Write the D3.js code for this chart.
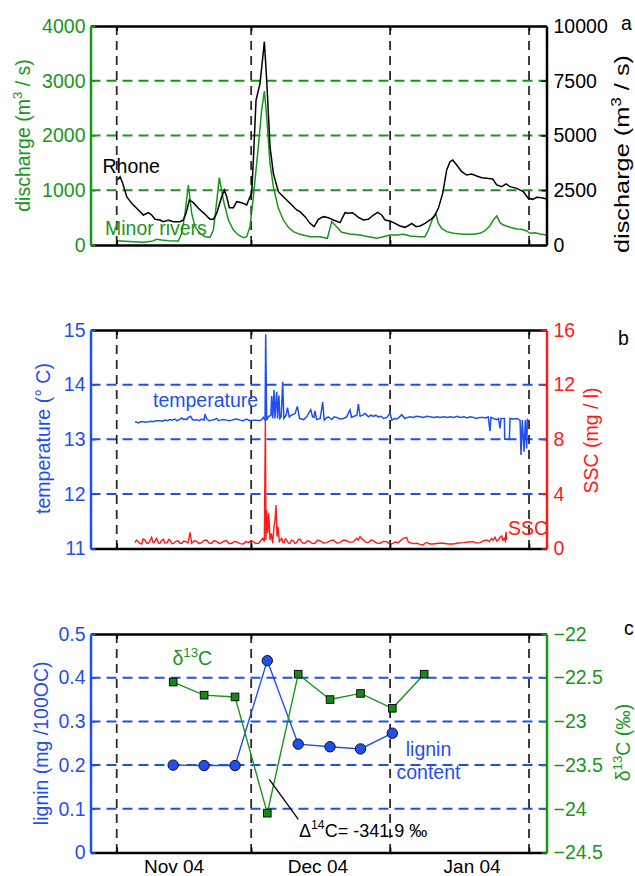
<!DOCTYPE html>
<html><head><meta charset="utf-8">
<script src="https://cdn.jsdelivr.net/npm/d3@7"></script>
<style>body{margin:0;background:#fff} svg{display:block} text{font-family:"Liberation Sans",Arial,Helvetica,sans-serif}</style>
</head><body><svg id="c" width="635" height="876"></svg>
<script>
// ---------- DATA (x = days since 1 Nov 2004) ----------
const xDomain = [-5.85, 95.9];
const monthLines = [0, 30, 61, 92];
const monthLabels = ["Nov 04", "Dec 04", "Jan 04"];
const monthLabelDays = [12.8, 44.9, 79.3];

// panel a
const dischargeLeftTicks = [0, 1000, 2000, 3000, 4000];
const dischargeRightTicks = [0, 2500, 5000, 7500, 10000];
const dischargeGrid = [1000, 2000, 3000];
const rhone = [[0.14,2968],[0.74,3120],[1.33,2816],[2.23,2207],[3.34,1903],[4.83,1598],[5.94,1370],[7.06,1476],[7.80,1370],[8.55,1172],[9.66,1142],[10.41,1065],[11.52,1142],[12.64,1065],[14.13,1065],[14.87,1142],[15.47,1446],[16.21,2055],[17.10,1933],[18.22,1674],[19.48,1446],[20.82,1172],[21.57,1172],[22.31,1446],[23.42,2207],[24.02,2511],[24.54,2207],[25.13,1705],[26.03,1705],[26.77,1979],[27.89,1933],[29.00,1826],[29.60,2131],[30.12,2359],[30.49,3881],[31.09,6621],[31.98,7382],[32.95,9284],[33.46,7534],[34.21,4490],[34.95,3272],[36.07,2435],[37.18,2207],[38.67,1903],[40.16,1598],[40.90,1522],[42.02,1294],[43.13,989],[44.03,837],[45.00,1172],[46.11,1294],[47.23,1248],[48.34,1142],[49.83,1020],[50.94,1476],[51.69,1446],[52.66,1476],[53.92,1263],[55.04,1142],[56.15,1172],[57.27,1370],[58.23,1492],[59.13,1370],[59.87,1142],[60.98,1096],[62.10,989],[63.21,868],[64.33,807],[65.30,913],[65.82,989],[66.79,837],[67.68,868],[68.80,989],[69.91,1142],[70.81,1294],[71.77,1674],[72.74,2359],[73.63,3425],[74.37,3805],[74.97,3881],[75.86,3653],[76.98,3348],[78.10,3196],[79.21,3242],[80.33,3151],[81.44,3074],[82.56,3044],[83.90,3014],[84.79,2740],[85.90,2664],[86.87,2788],[87.76,2664],[89.25,2587],[90.73,2435],[91.85,2131],[92.82,2085],[93.71,2177],[94.83,2161],[95.9,2100]];
const minorRivers = [[0.0,79],[3.72,61],[5.94,49],[7.80,67],[8.92,104],[10.04,91],[11.52,79],[13.75,73],[14.50,213],[15.24,578],[15.98,1096],[16.73,578],[17.47,335],[18.59,213],[19.70,152],[20.82,140],[21.57,274],[22.31,791],[22.90,1230],[23.79,822],[24.91,457],[26.03,274],[27.14,183],[28.26,134],[29.00,152],[29.74,335],[30.49,883],[31.60,1796],[32.35,2466],[32.95,2813],[33.46,2344],[34.21,1492],[34.95,1065],[36.07,670],[37.18,457],[38.30,323],[39.41,244],[40.90,195],[42.02,175],[43.13,152],[45.36,152],[47.00,122],[47.97,426],[49.08,335],[50.20,231],[52.06,201],[54.29,183],[56.15,152],[58.01,122],[59.50,152],[60.98,183],[62.47,183],[63.96,195],[65.45,164],[67.68,152],[68.80,152],[69.54,274],[70.66,517],[71.25,560],[71.77,396],[72.52,304],[73.63,244],[75.12,213],[77.35,195],[79.58,195],[81.07,213],[82.19,262],[83.30,353],[84.05,457],[84.79,530],[85.53,408],[86.28,365],[87.76,323],[89.25,292],[90.36,286],[91.48,256],[92.22,213],[93.34,225],[94.45,201],[95.9,183]];

// panel b
const tempTicks = [11, 12, 13, 14, 15];
const sscTicks = [0, 4, 8, 12, 16];
const tempGrid = [12, 13, 14];
const temperature = [[4.1,13.32],[4.5,13.31],[4.8,13.30],[5.3,13.32],[5.9,13.32],[6.4,13.31],[7.1,13.32],[7.6,13.33],[8.2,13.32],[8.8,13.34],[9.7,13.34],[10.2,13.33],[10.8,13.35],[11.3,13.34],[11.9,13.36],[12.4,13.35],[13.0,13.37],[13.4,13.34],[13.8,13.35],[14.5,13.39],[14.9,13.36],[15.2,13.37],[15.6,13.36],[16.0,13.40],[16.5,13.42],[16.9,13.36],[17.4,13.35],[17.8,13.36],[18.4,13.34],[19.0,13.37],[19.5,13.35],[19.7,13.46],[20.1,13.37],[20.6,13.34],[21.2,13.35],[21.8,13.36],[22.3,13.38],[22.7,13.34],[23.1,13.35],[23.8,13.36],[24.5,13.35],[25.1,13.34],[25.7,13.35],[26.2,13.36],[26.8,13.37],[27.5,13.35],[28.2,13.34],[29.0,13.37],[29.7,13.34],[30.4,13.35],[31.2,13.35],[31.8,13.34],[32.4,13.36],[32.7,13.40],[33.1,13.35],[33.24,14.92],[33.46,13.35],[33.8,13.41],[34.4,13.44],[34.58,13.79],[34.8,13.38],[35.1,13.90],[35.3,13.38],[35.7,13.87],[35.9,13.38],[36.2,13.80],[36.4,13.38],[36.7,13.41],[37.03,14.05],[37.3,13.38],[37.8,13.44],[38.1,13.58],[38.5,13.41],[39.0,13.44],[39.8,13.47],[40.3,13.60],[40.8,13.38],[41.2,13.37],[41.7,13.36],[42.4,13.41],[43.0,13.50],[43.3,13.54],[43.7,13.41],[44.0,13.40],[44.25,13.52],[44.6,13.36],[45.4,13.38],[45.96,13.68],[46.3,13.35],[46.8,13.39],[47.2,13.41],[48.0,13.36],[48.5,13.41],[49.1,13.40],[49.8,13.37],[50.6,13.38],[51.3,13.41],[52.06,13.54],[52.4,13.40],[53.0,13.42],[53.6,13.44],[53.92,13.65],[54.3,13.42],[54.9,13.44],[55.4,13.47],[56.2,13.41],[56.7,13.44],[57.3,13.42],[57.8,13.44],[58.4,13.41],[59.0,13.42],[59.5,13.38],[60.3,13.40],[60.98,13.48],[61.4,13.35],[62.0,13.38],[62.5,13.37],[63.0,13.40],[63.6,13.45],[64.3,13.38],[64.9,13.40],[65.5,13.41],[66.2,13.40],[66.8,13.42],[67.7,13.41],[68.4,13.40],[69.2,13.42],[69.9,13.41],[70.8,13.40],[71.5,13.41],[72.1,13.40],[73.0,13.41],[73.8,13.40],[74.4,13.41],[75.2,13.40],[76.0,13.42],[76.6,13.40],[77.5,13.41],[78.2,13.39],[78.8,13.41],[79.6,13.40],[80.3,13.38],[81.0,13.40],[81.8,13.40],[82.4,13.39],[82.9,13.41],[83.3,13.15],[83.5,13.40],[84.1,13.38],[84.8,13.36],[85.2,13.38],[85.53,13.20],[85.76,13.38],[86.5,13.38],[86.58,13.00],[87.62,13.00],[87.76,13.38],[88.5,13.37],[89.25,13.38],[90.0,13.35],[90.21,12.71],[90.5,13.35],[90.89,12.77],[91.18,13.35],[91.48,12.83],[91.63,13.36],[91.86,13.36]];
const ssc = [[4.08,0.43],[4.4,0.62],[4.83,0.50],[5.2,0.38],[5.57,0.33],[5.9,0.70],[6.31,0.62],[6.7,0.40],[7.06,0.38],[7.4,0.55],[7.80,0.82],[8.1,0.45],[8.32,0.43],[8.6,0.60],[8.92,0.74],[9.3,0.40],[9.66,0.38],[10.0,0.58],[10.41,0.67],[10.8,0.40],[11.30,0.43],[11.6,0.66],[11.89,0.62],[12.3,0.35],[12.64,0.38],[13.2,0.52],[13.75,0.57],[14.1,0.38],[14.50,0.38],[15.0,0.55],[15.46,0.50],[15.9,0.40],[16.36,1.18],[16.73,0.38],[17.3,0.56],[17.84,0.52],[18.4,0.36],[18.96,0.43],[19.5,0.60],[20.07,0.62],[20.6,0.40],[21.19,0.38],[21.7,0.58],[22.31,0.50],[22.9,0.36],[23.42,0.43],[24.0,0.55],[24.54,0.57],[25.1,0.35],[25.66,0.38],[26.2,0.52],[26.77,0.48],[27.5,0.36],[28.26,0.33],[28.8,0.50],[29.37,0.43],[29.9,0.56],[30.49,0.50],[31.0,0.36],[31.60,0.38],[32.1,0.55],[32.57,0.74],[32.94,0.50],[33.17,9.41],[33.31,0.62],[33.46,2.82],[33.69,1.11],[33.91,2.58],[34.21,0.62],[34.51,1.11],[34.80,0.38],[35.10,1.60],[35.32,2.09],[35.55,3.19],[35.77,0.87],[35.99,1.60],[36.29,0.50],[36.81,0.74],[37.1,0.45],[37.33,0.43],[37.6,0.70],[37.93,0.62],[38.3,0.40],[38.67,0.38],[39.0,0.60],[39.41,0.57],[39.8,0.36],[40.16,0.43],[40.5,0.66],[40.90,0.67],[41.5,0.40],[42.02,0.38],[42.6,0.58],[43.13,0.50],[43.7,0.36],[44.25,0.38],[44.8,0.60],[45.36,0.57],[46.1,0.40],[46.85,0.43],[47.6,0.56],[48.34,0.62],[49.1,0.40],[49.83,0.43],[50.6,0.62],[51.32,0.57],[52.0,0.45],[52.81,0.50],[53.55,0.74],[53.9,0.60],[54.29,0.87],[54.7,0.70],[55.04,0.62],[55.6,0.45],[56.15,0.43],[56.7,0.62],[57.27,0.57],[58.0,0.40],[58.76,0.38],[59.5,0.52],[60.24,0.50],[60.8,0.36],[61.36,0.33],[62.1,0.48],[62.85,0.43],[63.5,0.62],[63.96,0.74],[64.71,0.82],[65.1,0.45],[65.45,0.43],[66.2,0.36],[66.94,0.38],[67.7,0.30],[68.43,0.26],[68.8,0.40],[69.17,0.43],[69.9,0.33],[70.66,0.33],[71.8,0.38],[72.89,0.38],[74.0,0.33],[75.12,0.33],[76.2,0.40],[77.35,0.43],[78.5,0.48],[79.58,0.50],[80.3,0.40],[81.07,0.43],[81.8,0.55],[82.56,0.62],[83.1,0.50],[83.67,0.74],[84.0,0.60],[84.42,0.82],[84.8,0.55],[85.16,0.62],[85.5,0.80],[85.90,0.92],[86.2,0.60],[86.43,0.74],[86.7,0.55],[86.87,1.23],[87.02,0.62]];

// panel c
const ligninTicks = [0, 0.1, 0.2, 0.3, 0.4, 0.5];
const d13cTicks = [-24.5, -24, -23.5, -23, -22.5, -22];
const ligninGrid = [0.1, 0.2, 0.3, 0.4];
const ligninDays = [12.6, 19.5, 26.4, 33.6, 40.5, 47.6, 54.4, 61.5];
const ligninValues = [0.200, 0.199, 0.199, 0.439, 0.248, 0.242, 0.237, 0.273];
const d13cDays = [12.6, 19.5, 26.4, 33.6, 40.5, 47.6, 54.4, 61.5, 68.6];
const d13cValues = [-22.55, -22.70, -22.72, -24.05, -22.46, -22.75, -22.68, -22.85, -22.46];
const d14cNote = "-341.9 ‰";

// ---------- DRAW ----------
const GREEN = "#1b941b", BLUE = "#1f4ff0", RED = "#ff1a1a", BLACK = "#000", GRIDV = "#2a2a2a";
const X0 = 90.5, X1 = 546.5;
const svg = d3.select("#c");
const x = d3.scaleLinear().domain(xDomain).range([X0, X1]);
const TICKFS = 19.5, LABFS = 19.5;

function setupPanel(top, bottom, leftDom, rightDom, grid, gridColor) {
  const g = svg.append("g");
  const yL = d3.scaleLinear().domain(leftDom).range([bottom, top]);
  const yR = d3.scaleLinear().domain(rightDom).range([bottom, top]);
  g.selectAll(null).data(grid).join("line")
    .attr("x1", X0).attr("x2", X1).attr("y1", d => yL(d)).attr("y2", d => yL(d))
    .attr("stroke", gridColor).attr("stroke-width", 2).attr("stroke-dasharray", "10,6");
  g.selectAll(null).data(monthLines).join("line")
    .attr("x1", d => x(d)).attr("x2", d => x(d)).attr("y1", top).attr("y2", bottom)
    .attr("stroke", GRIDV).attr("stroke-width", 1.8).attr("stroke-dasharray", "9,6");
  return {g, yL, yR, top, bottom};
}

function frame(p, leftTicks, rightTicks, leftColor, rightColor, lfmt, rfmt) {
  const {g, yL, yR, top, bottom} = p;
  const style = (sel, color) => {
    sel.select(".domain").attr("stroke", color).attr("stroke-width", 2.5);
    sel.selectAll(".tick line").attr("stroke", color).attr("stroke-width", 1.5);
    sel.selectAll(".tick text").attr("fill", color).attr("font-size", TICKFS)
      .attr("font-family", '"Liberation Sans",Arial,sans-serif');
    sel.attr("font-size", null).attr("font-family", null);
  };
  const ax = d3.axisTop(x).tickValues(monthLines).tickSize(-5).tickSizeOuter(0).tickFormat("");
  g.append("g").attr("transform", `translate(0,${top})`).call(ax).call(s => style(s, BLACK));
  const bx = d3.axisBottom(x).tickValues(monthLines).tickSize(-5).tickSizeOuter(0).tickFormat("");
  g.append("g").attr("transform", `translate(0,${bottom})`).call(bx).call(s => style(s, BLACK));
  g.append("g").attr("transform", `translate(${X0},0)`)
    .call(d3.axisLeft(yL).tickValues(leftTicks).tickSize(-5).tickSizeOuter(0).tickPadding(5).tickFormat(lfmt))
    .call(s => style(s, leftColor));
  g.append("g").attr("transform", `translate(${X1},0)`)
    .call(d3.axisRight(yR).tickValues(rightTicks).tickSize(-5).tickSizeOuter(0).tickPadding(7).tickFormat(rfmt))
    .call(s => style(s, rightColor));
}

function vlabel(xb, yc, color, parts, fs) {
  const t = svg.append("text").attr("transform", `translate(${xb},${yc}) rotate(-90)`)
    .attr("text-anchor", "middle").attr("fill", color).attr("font-size", fs || LABFS);
  parts.forEach(p => {
    const ts = t.append("tspan").text(p.t);
    if (p.sup) ts.attr("font-size", (fs || LABFS) * 0.68).attr("dy", -8);
    if (p.after) ts.attr("dy", 8);
  });
  return t;
}
function hlabel(xp, yp, color, parts, fs, anchor) {
  const t = svg.append("text").attr("x", xp).attr("y", yp).attr("fill", color)
    .attr("font-size", fs || LABFS).attr("text-anchor", anchor || "start");
  parts.forEach(p => {
    const ts = t.append("tspan").text(p.t);
    if (p.sup) ts.attr("font-size", (fs || LABFS) * 0.68).attr("dy", -8);
    if (p.after) ts.attr("dy", 8);
  });
  return t;
}

// ----- Panel a -----
const pa = setupPanel(26, 245, [0, 4000], [0, 10000], dischargeGrid, GREEN);
pa.g.append("path").datum(minorRivers)
  .attr("d", d3.line().x(d => x(d[0])).y(d => pa.yL(d[1])))
  .attr("fill", "none").attr("stroke", GREEN).attr("stroke-width", 1.5);
pa.g.append("path").datum(rhone)
  .attr("d", d3.line().x(d => x(d[0])).y(d => pa.yR(d[1])))
  .attr("fill", "none").attr("stroke", BLACK).attr("stroke-width", 1.5);
frame(pa, dischargeLeftTicks, dischargeRightTicks, GREEN, BLACK, d3.format("d"), d3.format("d"));
hlabel(102.5, 173, BLACK, [{t: "Rhone"}]);
hlabel(105, 235, GREEN, [{t: "Minor rivers"}]);
vlabel(29.5, 135.5, GREEN, [{t: "discharge (m"}, {t: "3", sup: true}, {t: " / s)", after: true}]);
vlabel(629, 154, BLACK, [{t: "discharge (m"}, {t: "3", sup: true}, {t: " / s)", after: true}], 21)
  .attr("textLength", 198).attr("lengthAdjust", "spacingAndGlyphs");
hlabel(621, 30, BLACK, [{t: "a"}]);

// ----- Panel b -----
const pb = setupPanel(330, 548.5, [11, 15], [0, 16], tempGrid, BLUE);
pb.g.append("path").datum(ssc)
  .attr("d", d3.line().x(d => x(d[0])).y(d => pb.yR(d[1])))
  .attr("fill", "none").attr("stroke", RED).attr("stroke-width", 1.4);
pb.g.append("path").datum(temperature)
  .attr("d", d3.line().x(d => x(d[0])).y(d => pb.yL(d[1])))
  .attr("fill", "none").attr("stroke", BLUE).attr("stroke-width", 1.5);
frame(pb, tempTicks, sscTicks, BLUE, RED, d3.format("d"), d3.format("d"));
hlabel(153, 406.5, BLUE, [{t: "temperature"}]);
hlabel(508, 535, RED, [{t: "SSC"}]);
vlabel(50, 438.5, BLUE, [{t: "temperature (° C)"}]);
vlabel(598, 440.5, RED, [{t: "SSC (mg / l)"}]);
hlabel(618, 345, BLACK, [{t: "b"}]);

// ----- Panel c -----
const pc = setupPanel(634, 852.5, [0, 0.5], [-24.5, -22], ligninGrid, BLUE);
const ligninPts = ligninDays.map((d, i) => [d, ligninValues[i]]);
const d13cPts = d13cDays.map((d, i) => [d, d13cValues[i]]);
pc.g.append("path").datum(ligninPts)
  .attr("d", d3.line().x(d => x(d[0])).y(d => pc.yL(d[1])))
  .attr("fill", "none").attr("stroke", BLUE).attr("stroke-width", 1.4);
pc.g.append("path").datum(d13cPts)
  .attr("d", d3.line().x(d => x(d[0])).y(d => pc.yR(d[1])))
  .attr("fill", "none").attr("stroke", GREEN).attr("stroke-width", 1.4);
pc.g.selectAll(null).data(ligninPts).join("circle")
  .attr("cx", d => x(d[0])).attr("cy", d => pc.yL(d[1])).attr("r", 5.2)
  .attr("fill", BLUE).attr("stroke", "#111").attr("stroke-width", 1);
const SQ = 7.6;
pc.g.selectAll(null).data(d13cPts).join("rect")
  .attr("x", d => x(d[0]) - SQ / 2).attr("y", d => pc.yR(d[1]) - SQ / 2)
  .attr("width", SQ).attr("height", SQ)
  .attr("fill", "#168a16").attr("stroke", "#111").attr("stroke-width", 1);
// annotation leader (in lignin units)
pc.g.append("line")
  .attr("x1", x(34.05)).attr("y1", pc.yL(0.1675)).attr("x2", x(40.52)).attr("y2", pc.yL(0.076))
  .attr("stroke", BLACK).attr("stroke-width", 1.3);
frame(pc, ligninTicks, d13cTicks, BLUE, GREEN, d => d === 0 ? "0" : d3.format(".1f")(d), d => (d < 0 ? "\u2212" : "") + d3.format("")(Math.abs(d)));
hlabel(299, 836.5, BLACK, [{t: "Δ"}, {t: "14", sup: true}, {t: "C= " + d14cNote, after: true}], 18);
hlabel(172.5, 665, GREEN, [{t: "δ"}, {t: "13", sup: true}, {t: "C", after: true}]);
hlabel(428.5, 756, BLUE, [{t: "lignin"}], LABFS, "middle");
hlabel(428.5, 778.5, BLUE, [{t: "content"}], LABFS, "middle");
vlabel(47.5, 743.3, BLUE, [{t: "lignin (mg /100OC)"}]);
vlabel(630, 742.5, GREEN, [{t: "δ"}, {t: "13", sup: true}, {t: "C (‰)", after: true}]);
hlabel(624, 635, BLACK, [{t: "c"}]);

// month labels
svg.append("g").selectAll("text").data(monthLabels).join("text")
  .attr("x", (d, i) => x(monthLabelDays[i])).attr("y", 873)
  .attr("text-anchor", "middle").attr("font-size", 19).attr("fill", BLACK).text(d => d);
</script></body></html>
